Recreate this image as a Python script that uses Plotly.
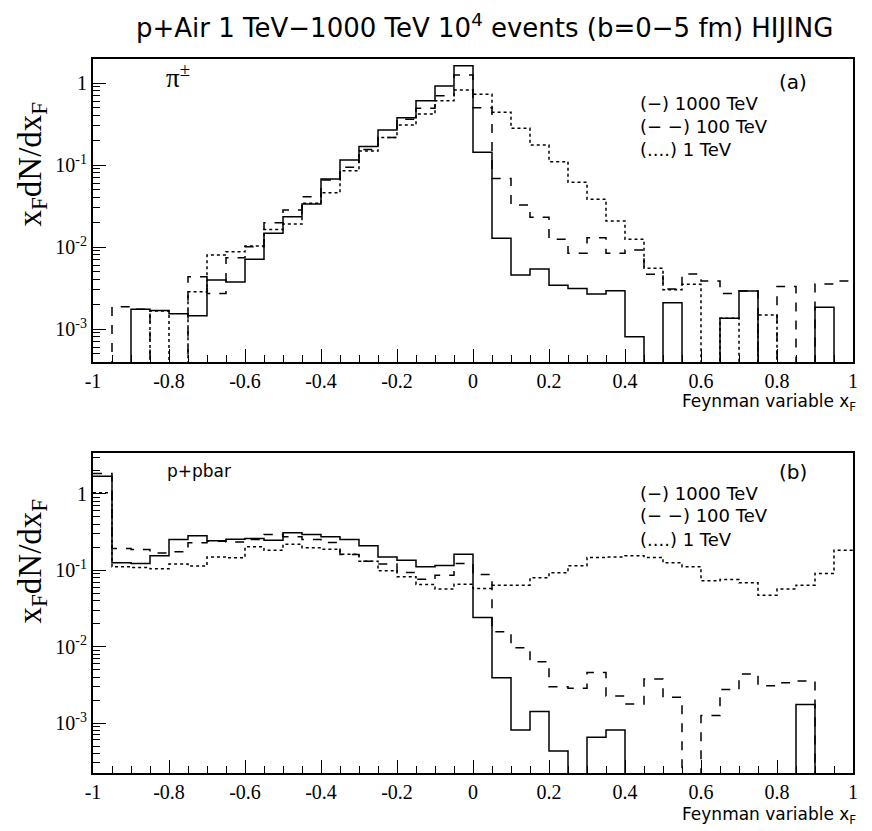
import numpy as np
import plotly.graph_objects as go

# 40 bins in x_F from -1 to 1
edges = np.round(np.linspace(-1, 1, 41), 2)

# panel (a): pi+-   (0 = empty bin)
pi_1000 = [0, 0, 0.00174, 0.00168, 0.00154, 0.00145, 0.00396, 0.00374, 0.00708, 0.0147,
           0.0234, 0.0334, 0.0675, 0.115, 0.168, 0.267, 0.378, 0.610, 0.918, 1.63,
           0.143, 0.0128, 0.00456, 0.00540, 0.00341, 0.00313, 0.00267, 0.00293, 0.000805, 0,
           0.00209, 0, 0, 0.00135, 0.00290, 0, 0, 0, 0.00185, 0]
pi_100 = [0, 0.00187, 0.00174, 0, 0, 0.00435, 0.00272, 0.00741, 0.0101, 0.0198,
          0.0282, 0.0411, 0.0656, 0.0938, 0.155, 0.217, 0.361, 0.491, 0.700, 1.25,
          0.500, 0.0687, 0.0325, 0.0230, 0.0124, 0.00838, 0.0130, 0.00838, 0.00918, 0.00465,
          0.00308, 0.00469, 0.00385, 0.00272, 0.00290, 0, 0.00331, 0, 0.00354, 0.00385]
pi_1 = [0, 0, 0, 0.00166, 0, 0.00285, 0.00798, 0.00877, 0.0103, 0.0164,
        0.0191, 0.0341, 0.0460, 0.0853, 0.148, 0.217, 0.308, 0.419, 0.610, 0.822,
        0.728, 0.440, 0.280, 0.175, 0.110, 0.0615, 0.0382, 0.0207, 0.0124, 0.00550,
        0.00302, 0.00351, 0, 0.00135, 0, 0.00148, 0, 0, 0, 0]

# panel (b): p+pbar
p_1000 = [1.69, 0.125, 0.122, 0.154, 0.252, 0.281, 0.242, 0.254, 0.259, 0.247,
          0.308, 0.292, 0.273, 0.252, 0.208, 0.149, 0.135, 0.111, 0.115, 0.162,
          0.0241, 0.00392, 0.000809, 0.00141, 0.000431, 0, 0.000650, 0.000809, 0, 0,
          0, 0, 0, 0, 0, 0, 0, 0.00175, 0, 0]
p_100 = [1.84, 0.192, 0.186, 0.168, 0.174, 0.228, 0.239, 0.234, 0.252, 0.292,
         0.273, 0.252, 0.230, 0.160, 0.131, 0.120, 0.0931, 0.0762, 0.0861, 0.122,
         0.0877, 0.0156, 0.00966, 0.00634, 0.00299, 0.00284, 0.00459, 0.00225, 0.00177, 0.00376,
         0.00217, 0, 0.00125, 0.00275, 0.00438, 0.00308, 0.00337, 0.00354, 0, 0]
p_1 = [1.03, 0.111, 0.108, 0.104, 0.120, 0.113, 0.149, 0.145, 0.202, 0.182,
       0.219, 0.196, 0.188, 0.162, 0.131, 0.0979, 0.0818, 0.0650, 0.0565, 0.0656,
       0.0575, 0.0637, 0.0637, 0.0794, 0.0923, 0.114, 0.147, 0.149, 0.154, 0.147,
       0.125, 0.111, 0.0726, 0.0755, 0.0682, 0.0471, 0.0565, 0.0637, 0.0904, 0.182]

ytickvals = [1, 0.1, 0.01, 0.001]
yticktext = ["1", "10<sup>-1</sup>", "10<sup>-2</sup>", "10<sup>-3</sup>"]
xtickvals = [-1, -0.8, -0.6, -0.4, -0.2, 0, 0.2, 0.4, 0.6, 0.8, 1]
xticktext = ["-1", "-0.8", "-0.6", "-0.4", "-0.2", "0", "0.2", "0.4", "0.6", "0.8", "1"]
legend_text = ["(\u2212) 1000 TeV", "(\u2212 \u2212) 100 TeV", "(....) 1 TeV"]

# page has an 8px body margin, so the figure is drawn 8px in from the corner
OFF = 8
W, H = 872 - OFF, 831 - OFF
ML, MR, MT, MB = 93 - OFF, 19, 59 - OFF, 58
PW, PH = W - ML - MR, H - MT - MB


def px(x):
    # page pixel -> paper x
    return (x - OFF - ML) / PW


def py(y):
    # page pixel -> paper y
    return (H - MB - (y - OFF)) / PH


def step(vals):
    # empty bins drawn far below the axis so the line drops to the frame
    v = [x if x > 0 else 1e-7 for x in vals]
    return v + [v[-1]]


fig = go.Figure()
styles = [("solid", "1000 TeV"), ("dash", "100 TeV"), ("dot", "1 TeV")]
for ax, series in [("", [pi_1000, pi_100, pi_1]), ("2", [p_1000, p_100, p_1])]:
    for vals, (dash, name) in zip(series, styles):
        fig.add_trace(go.Scatter(
            x=edges, y=step(vals), mode="lines", line_shape="hv", name=name,
            line=dict(color="black", width=1.5, dash=dash),
            xaxis="x" + ax, yaxis="y" + ax, showlegend=False, hoverinfo="skip"))

tickfont = dict(family="Liberation Serif", size=20, color="black")
xcommon = dict(range=[-1, 1], tickvals=xtickvals, ticktext=xticktext, ticks="inside",
               ticklen=13, tickwidth=1, tickcolor="black", showline=True, linewidth=2,
               linecolor="black", mirror=True, showgrid=False, zeroline=False,
               tickfont=tickfont,
               minor=dict(dtick=0.05, ticks="inside", ticklen=7, tickcolor="black", showgrid=False))
ycommon = dict(type="log", tickvals=ytickvals, ticktext=yticktext, ticks="inside",
               ticklen=13, tickwidth=1, tickcolor="black", showline=True, linewidth=2,
               linecolor="black", mirror=True, showgrid=False, zeroline=False,
               tickfont=tickfont,
               minor=dict(dtick="D1", ticks="inside", ticklen=7, tickcolor="black", showgrid=False))

fig.update_layout(
    width=W, height=H, plot_bgcolor="white", paper_bgcolor="white",
    margin=dict(l=ML, r=MR, t=MT, b=MB),
    xaxis=dict(xcommon, anchor="y", domain=[0, 1]),
    yaxis=dict(ycommon, anchor="x", domain=[py(362), 1], range=[-3.402, 0.293]),
    xaxis2=dict(xcommon, anchor="y2", domain=[0, 1]),
    yaxis2=dict(ycommon, anchor="x2", domain=[0, py(453)], range=[-3.654, 0.533]),
)

sans = "DejaVu Sans"
ann = []
ann.append(dict(x=px(484), y=py(26), text="p+Air 1 TeV\u22121000 TeV 10<sup>4</sup> events (b=0\u22125 fm) HIJING",
                font=dict(family=sans, size=26, color="black")))
for ytitle, xtitle in [(100, 403), (497, 815)]:
    ann.append(dict(x=px(32), y=py(ytitle), text="x<sub>F</sub>dN/dx<sub>F</sub>", textangle=-90,
                    yanchor="top", font=dict(family="Liberation Serif", size=33, color="black")))
    ann.append(dict(x=px(858), y=py(xtitle), text="Feynman variable x<sub>F</sub>", xanchor="right",
                    font=dict(family=sans, size=17, color="black")))
ann.append(dict(x=px(164), y=py(76), text="\u03c0<sup>\u00b1</sup>", xanchor="left",
                font=dict(family="Liberation Serif", size=27, color="black")))
ann.append(dict(x=px(165), y=py(471), text="p+pbar", xanchor="left",
                font=dict(family=sans, size=17, color="black")))
ann.append(dict(x=px(793), y=py(82), text="(a)", font=dict(family=sans, size=20, color="black")))
ann.append(dict(x=px(793), y=py(472), text="(b)", font=dict(family=sans, size=20, color="black")))
for y0 in (103, 493):
    for i, t in enumerate(legend_text):
        ann.append(dict(x=px(638), y=py(y0 + 23 * i), text=t, xanchor="left",
                        font=dict(family=sans, size=18, color="black")))
for a in ann:
    a.update(xref="paper", yref="paper", showarrow=False)
    a.setdefault("xanchor", "center")
    a.setdefault("yanchor", "middle")
fig.update_layout(annotations=ann)

fig.write_html("out.html")
